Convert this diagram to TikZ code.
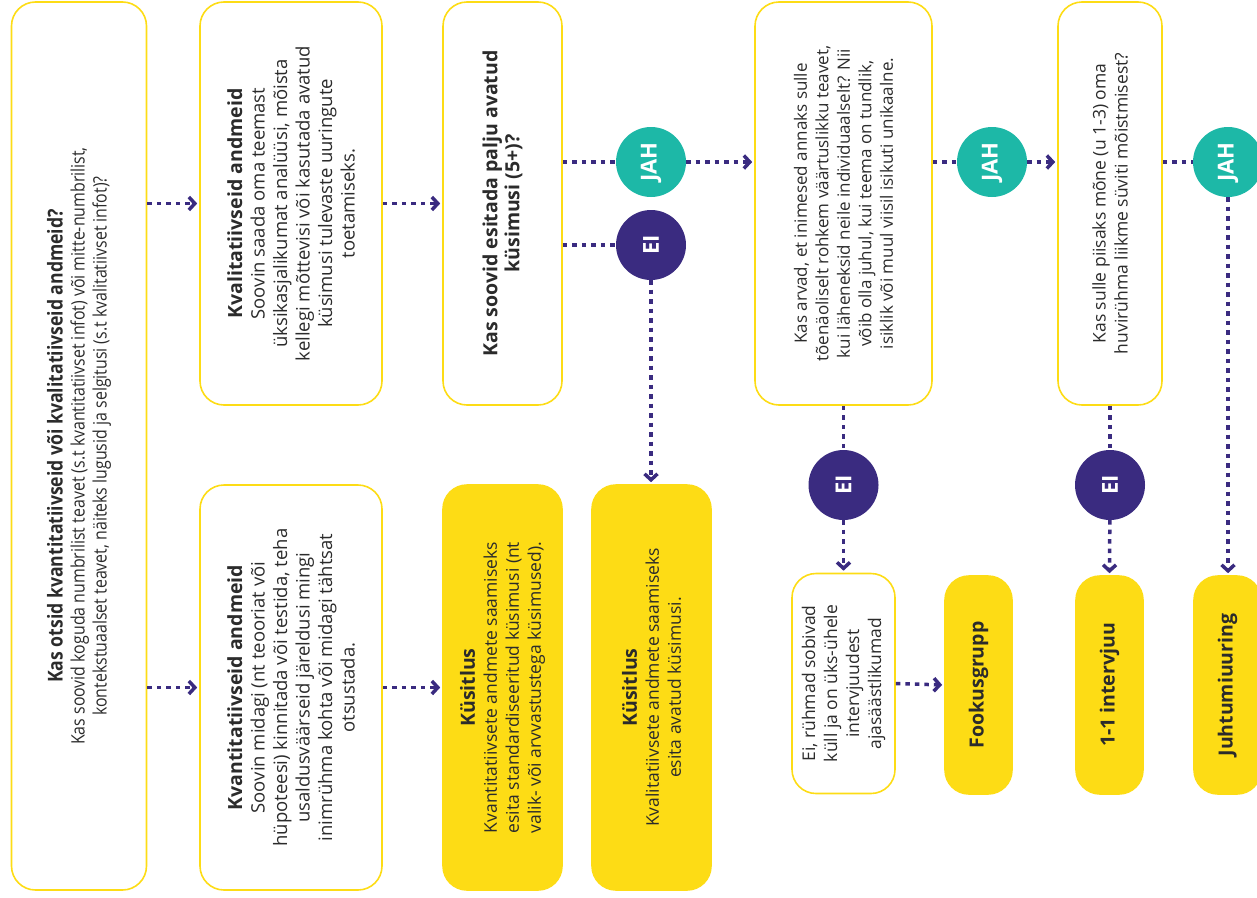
\documentclass[tikz,border=0pt]{standalone}
\usepackage{fontspec}
\setmainfont{Open Sans}
\newfontfamily\narrowfont[FakeStretch=0.86]{Open Sans}
\usetikzlibrary{arrows.meta,positioning}

\definecolor{flowyellow}{HTML}{FDDC15}
\definecolor{flowteal}{HTML}{1DB8A7}
\definecolor{flowpurple}{HTML}{3A2B80}
\definecolor{flowtext}{HTML}{2B2B2B}

\tikzset{
  box/.style={draw=flowyellow, line width=1.6pt, rounded corners=24pt, rotate=90,
    align=center, inner sep=0pt, text=flowtext, font=\fontsize{17.5}{22}\selectfont},
  outbox/.style={box, fill=flowyellow},
  jahnode/.style={circle, fill=flowteal, minimum size=70pt, inner sep=0pt, text=white,
    font=\bfseries\fontsize{22}{22}\selectfont},
  einode/.style={jahnode, fill=flowpurple},
  link/.style={flowpurple, line width=3.5pt, dash pattern=on 4.5pt off 5pt},
  arrowlink/.style={link, -{Straight Barb[length=6pt,width=13pt]}, shorten >=2pt},
}
\newcommand{\heading}[1]{{\bfseries\fontsize{19.5}{22}\selectfont #1}}

\begin{document}
\begin{tikzpicture}[x=1pt,y=-1pt]
  \useasboundingbox (0,0) rectangle (1257,897);
  % first question
  \node[box, minimum width=888pt, minimum height=135pt, font=\narrowfont\fontsize{18.5}{22}\selectfont] (kysimus) at (79,446)
    {{\bfseries\fontsize{20.5}{22}\selectfont Kas otsid kvantitatiivseid või kvalitatiivseid andmeid?}\\
     Kas soovid koguda numbrilist teavet (s.t kvantitatiivset infot) või mitte-numbrilist,\\
     kontekstuaalset teavet, näiteks lugusid ja selgitusi (s.t kvalitatiivset infot)?};
  % two kinds of data
  \node[box, minimum width=403pt, minimum height=182pt, font=\fontsize{18.5}{22.5}\selectfont] (kval) at (291,203.5)
    {\heading{Kvalitatiivseid andmeid}\\
     Soovin saada oma teemast\\
     üksikasjalikumat analüüsi, mõista\\
     kellegi mõttevisi või kasutada avatud\\
     küsimusi tulevaste uuringute\\
     toetamiseks.};
  \node[box, minimum width=405pt, minimum height=182pt, font=\fontsize{18.5}{22.5}\selectfont] (kvant) at (291,687.5)
    {\heading{Kvantitatiivseid andmeid}\\
     Soovin midagi (nt teooriat või\\
     hüpoteesi) kinnitada või testida, teha\\
     usaldusväärseid järeldusi mingi\\
     inimrühma kohta või midagi tähtsat\\
     otsustada.};
  % open questions?
  \node[box, minimum width=403pt, minimum height=119pt] (avatud) at (502.5,203.5)
    {\heading{Kas soovid esitada palju avatud}\\
     \heading{küsimusi (5+)?}};
  \node[outbox, minimum width=405pt, minimum height=119pt] (kys1) at (502.5,687.5)
    {\heading{Küsitlus}\\
     Kvantitatiivsete andmete saamiseks\\
     esita standardiseeritud küsimusi (nt\\
     valik- või arvvastustega küsimused).};
  \node[outbox, minimum width=405pt, minimum height=119pt] (kys2) at (651.5,687.5)
    {\heading{Küsitlus}\\
     Kvalitatiivsete andmete saamiseks\\
     esita avatud küsimusi.};
  \node[jahnode] (jah1) at (651,162) {\rotatebox{90}{JAH}};
  \node[einode] (ei1) at (651,245) {\rotatebox{90}{EI}};
  % individual approach?
  \node[box, minimum width=403pt, minimum height=177pt, font=\fontsize{17}{21.5}\selectfont] (arvad) at (843.5,203.5)
    {Kas arvad, et inimesed annaks sulle\\
     tõenäoliselt rohkem väärtuslikku teavet,\\
     kui läheneksid neile individuaalselt? Nii\\
     võib olla juhul, kui teema on tundlik,\\
     isiklik või muul viisil isikuti unikaalne.};
  \node[jahnode] (jah2) at (992,162) {\rotatebox{90}{JAH}};
  \node[einode] (ei2) at (843.5,485) {\rotatebox{90}{EI}};
  \node[box, minimum width=220pt, minimum height=103pt] (ryhmad) at (843.5,683.5)
    {Ei, rühmad sobivad\\
     küll ja on üks-ühele\\
     intervjuudest\\
     ajasäästlikumad};
  \node[outbox, minimum width=218pt, minimum height=67pt] (fokus) at (978.5,685)
    {\heading{Fookusgrupp}};
  % few members enough?
  \node[box, minimum width=403pt, minimum height=104pt] (piisaks) at (1110,203.5)
    {Kas sulle piisaks mõne (u 1-3) oma\\
     huvirühma liikme süviti mõistmisest?};
  \node[jahnode] (jah3) at (1228,162) {\rotatebox{90}{JAH}};
  \node[einode] (ei3) at (1110,485) {\rotatebox{90}{EI}};
  \node[outbox, minimum width=218pt, minimum height=67pt] (intervjuu) at (1109.5,685)
    {\heading{1-1 intervjuu}};
  \node[outbox, minimum width=218pt, minimum height=67pt] (juhtum) at (1227.5,685)
    {\heading{Juhtumiuuring}};

  \draw[arrowlink] (kysimus.south |- kval.center) -- (kval.north);
  \draw[arrowlink] (kysimus.south |- kvant.center) -- (kvant.north);
  \draw[arrowlink] (kval.south) -- (avatud.north);
  \draw[arrowlink] (kvant.south) -- (kys1.north);
  \draw[link] (avatud.south |- jah1) -- (jah1);
  \draw[link] (avatud.south |- ei1) -- (ei1);
  \draw[arrowlink] (jah1) -- (arvad.north |- jah1);
  \draw[arrowlink] (ei1) -- (ei1 |- kys2.east);
  \draw[link] (arvad.south |- jah2) -- (jah2);
  \draw[arrowlink] (jah2) -- (piisaks.north |- jah2);
  \draw[link] (arvad.west) -- (ei2);
  \draw[arrowlink] (ei2) -- (ryhmad.east);
  \draw[arrowlink] (ryhmad.south) -- (fokus.north);
  \draw[link] (piisaks.south |- jah3) -- (jah3);
  \draw[link] (piisaks.west) -- (ei3);
  \draw[arrowlink] (ei3) -- (intervjuu.east);
  \draw[arrowlink] (jah3) -- (jah3 |- juhtum.east);
\end{tikzpicture}
\end{document}
